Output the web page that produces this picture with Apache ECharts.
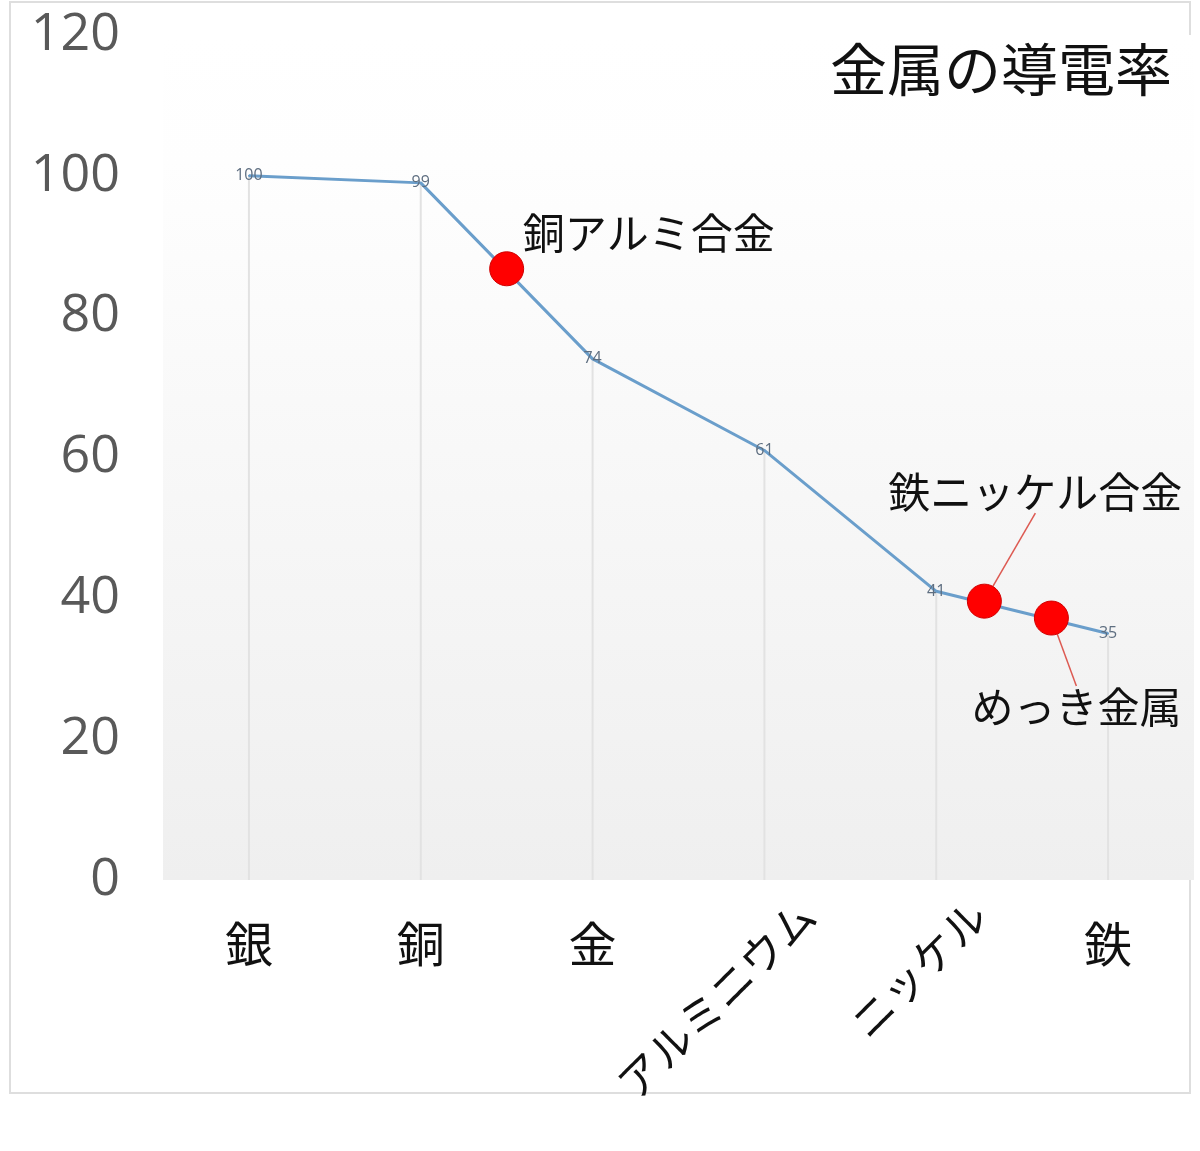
<!DOCTYPE html>
<html lang="ja">
<head>
<meta charset="utf-8">
<title>金属の導電率</title>
<script src="https://cdn.jsdelivr.net/npm/echarts@6/dist/echarts.min.js"></script>
<style>
  html, body { margin: 0; padding: 0; background: #fff; }
  #chart { width: 1200px; height: 1151px; }
</style>
</head>
<body>
<div id="chart"></div>
<script>
// metals on the x axis and their conductivity (silver = 100)
const categories = ["銀", "銅", "金", "アルミニウム", "ニッケル", "鉄"];
const conductivity = [100, 99, 74, 61, 41, 35];
const rotatedNames = ["アルミニウム", "ニッケル"];
const yTicks = [0, 20, 40, 60, 80, 100, 120];

// highlighted alloys placed between categories (x in category units)
const alloyNames = ["銅アルミ合金", "鉄ニッケル合金", "めっき金属"];
const alloyX = [1.5, 4.28, 4.67];
const alloyY = [86.8, 39.6, 37.2];

const jpFont = "'Noto Sans CJK JP', 'Noto Sans', sans-serif";

// 12 half slots so the rotated labels sit a bit right of their tick
const labelSlots = categories.flatMap((c) => ["", c]);

// where each alloy label goes relative to its dot
const noteShift = [
  { dx: 142, dy: -36 },
  { dx: 51, dy: -109 },
  { dx: 25, dy: 89 },
];

var chart = echarts.init(document.getElementById("chart"));

var option = {
  animation: false,
  textStyle: { fontFamily: jpFont },
  title: {
    text: "金属の導電率",
    right: 23,
    top: 36,
    textStyle: {
      fontSize: 57,
      fontWeight: "normal",
      color: "#111",
      fontFamily: jpFont,
    },
  },
  graphic: [
    {
      type: "rect",
      z: -1,
      shape: { x: 10, y: 2, width: 1180, height: 1091 },
      style: { fill: "none", stroke: "#dedede", lineWidth: 2 },
    },
  ],
  grid: {
    left: 163,
    right: 6,
    top: 35,
    bottom: 271,
    show: true,
    borderWidth: 0,
    backgroundColor: {
      type: "linear",
      x: 0,
      y: 0,
      x2: 0,
      y2: 1,
      colorStops: [
        { offset: 0, color: "#ffffff" },
        { offset: 0.15, color: "#fefefe" },
        { offset: 1, color: "#efefef" },
      ],
    },
  },
  xAxis: [
    {
      type: "category",
      data: categories,
      position: "bottom",
      boundaryGap: true,
      axisLine: { show: false },
      axisTick: { show: false },
      splitLine: { show: false },
      axisLabel: {
        interval: 0,
        fontSize: 48,
        margin: 40,
        color: "#111",
        formatter: (v) => (rotatedNames.includes(v) ? "" : v),
      },
    },
    {
      type: "category",
      data: labelSlots,
      position: "bottom",
      boundaryGap: true,
      axisLine: { show: false },
      axisTick: { show: false },
      splitLine: { show: false },
      axisLabel: {
        interval: 0,
        rotate: 45,
        fontSize: 43,
        margin: 28,
        color: "#111",
        formatter: (v) => (rotatedNames.includes(v) ? v : ""),
      },
    },
    {
      type: "value",
      min: -0.5,
      max: categories.length - 0.5,
      show: false,
    },
  ],
  yAxis: {
    type: "value",
    min: yTicks[0],
    max: yTicks[yTicks.length - 1],
    interval: 20,
    axisLine: { show: false },
    axisTick: { show: false },
    splitLine: { show: false },
    axisLabel: {
      fontSize: 52,
      margin: 43,
      color: "#595959",
      fontFamily: "'Open Sans', 'Noto Sans', sans-serif",
    },
  },
  series: [
    {
      // thin drop lines from each point down to the axis
      type: "bar",
      xAxisIndex: 0,
      data: conductivity,
      barWidth: 2,
      silent: true,
      itemStyle: { color: "#e2e2e2" },
      z: 1,
    },
    {
      type: "line",
      xAxisIndex: 0,
      data: conductivity,
      symbol: "circle",
      symbolSize: 2,
      lineStyle: { color: "#6a9ecb", width: 3 },
      itemStyle: { color: "#6a9ecb" },
      label: {
        show: true,
        position: "inside",
        fontSize: 16,
        color: "#5e6e80",
        fontFamily: "'Open Sans', sans-serif",
      },
      z: 3,
    },
    {
      type: "scatter",
      xAxisIndex: 2,
      data: alloyX.map((x, i) => ({
        name: alloyNames[i],
        value: [x, alloyY[i]],
        labelLine: { show: i > 0 },
      })),
      symbolSize: 34,
      itemStyle: {
        color: "#ff0000",
        borderColor: "#d00000",
        borderWidth: 1,
        opacity: 1,
      },
      label: {
        show: true,
        position: "inside",
        formatter: (p) => p.name,
        fontSize: 42,
        color: "#111",
        fontFamily: jpFont,
      },
      labelLine: {
        lineStyle: { color: "#dd5a52", width: 1.5 },
      },
      labelLayout: (p) => noteShift[p.dataIndex],
      z: 4,
    },
  ],
};

chart.setOption(option);
</script>
</body>
</html>
